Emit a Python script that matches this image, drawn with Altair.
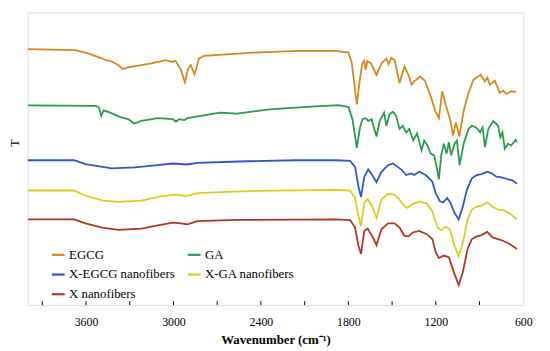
import altair as alt
import pandas as pd

# ---- data (wavenumber in cm-1, T in arbitrary offset units) ----
SERIES = ["EGCG", "GA", "X-EGCG nanofibers", "X-GA nanofibers", "X nanofibers"]
COLORS = ["#D4891C", "#2E9A4B", "#2F57C9", "#D6CF1F", "#B3361E"]
# legend is filled column by column: column 1 = EGCG, X-EGCG, X; column 2 = GA, X-GA
LEGEND_ORDER = ["EGCG", "X-EGCG nanofibers", "X nanofibers", "GA", "X-GA nanofibers"]

EGCG_WN = [4000, 3670, 3580, 3501, 3463, 3434, 3378, 3350, 3310, 3152, 3051, 3017, 2985, 2949, 2922,
           2899, 2882, 2855, 2825, 2791, 2453, 2137, 1889, 1799, 1776, 1742, 1720, 1704, 1691, 1681,
           1670, 1645, 1607, 1573, 1539, 1524, 1505, 1483, 1449, 1415, 1388, 1366, 1348, 1307, 1275,
           1235, 1208, 1179, 1156, 1133, 1099, 1082, 1062, 1039, 1009, 976, 942, 892, 863, 847, 829,
           795, 761, 739, 716, 683, 649]
EGCG_T = [259.7, 258.7, 255.3, 251, 248.7, 248, 243.7, 239.7, 241.3, 245.3, 248.7, 247, 247.7, 238.7, 226.3,
          240.3, 243.7, 234.3, 250.3, 253, 256.3, 258, 258, 256.3, 245.3, 203.7, 230.3, 245.3, 248, 238.7,
          247.7, 245.3, 233.7, 245.3, 250.3, 244.7, 251, 248.7, 225.3, 242, 233.7, 223.7, 227, 232, 227.7,
          212, 198.7, 189.7, 217, 203.7, 187, 172, 185.3, 171, 197, 215.3, 228.7, 233.7, 227, 231, 223.7,
          227.7, 215.3, 217.7, 214.3, 217, 216.3]

GA_WN = [4000, 3535, 3513, 3495, 3479, 3434, 3355, 3310, 3269, 3220, 3107, 3005, 2983, 2960, 2926, 2904,
         2679, 2566, 2340, 2114, 1867, 1799, 1772, 1742, 1720, 1704, 1681, 1664, 1641, 1607, 1585, 1555,
         1539, 1517, 1495, 1472, 1449, 1427, 1404, 1382, 1355, 1329, 1298, 1280, 1258, 1235, 1212, 1190,
         1179, 1163, 1145, 1126, 1111, 1095, 1072, 1055, 1037, 1009, 976, 953, 924, 896, 879, 863, 840,
         806, 773, 757, 743, 727, 705, 683, 653, 644]
GA_T = [202.7, 202.3, 201, 192, 197.7, 195.3, 190.3, 188.7, 184.3, 187, 189.7, 188.7, 186.3, 188.7, 187.7, 189.7,
        195.3, 194.3, 198.7, 201, 203, 201, 188.7, 159.7, 180.3, 188.7, 189.7, 187, 188.7, 171, 187, 195.3,
        182, 193.7, 196.3, 192, 178.7, 182, 175.3, 178.7, 167, 174.3, 157, 167, 162, 153.7, 152, 137,
        127.7, 152, 163.7, 153.7, 165.3, 152, 163.7, 167, 142, 163.7, 178.7, 182, 180.3, 175.3, 180.3, 160.3, 178.7,
        187, 182, 170.3, 175.3, 158.7, 163.7, 162, 167.7, 165.3]

XEGCG_WN = [4000, 3682, 3603, 3423, 3265, 3107, 3005, 2904, 2836, 2498, 2160, 1889, 1788, 1754, 1731, 1713,
            1691, 1664, 1637, 1607, 1573, 1528, 1495, 1461, 1427, 1404, 1370, 1348, 1314, 1269, 1224, 1201,
            1172, 1149, 1122, 1099, 1072, 1043, 1014, 987, 953, 919, 886, 847, 818, 784, 750, 705, 671, 644]
XEGCG_T = [147, 147, 143, 138.7, 139.7, 142, 143.7, 142.7, 144.3, 146, 147, 147, 146.3, 140.3, 120.3, 109.7,
           130.3, 137.7, 132, 124.7, 135.3, 142, 143.7, 140.3, 136.3, 132, 133.7, 132, 135.3, 132, 125.3, 113.7,
           105.3, 104.3, 108.7, 103.7, 93.7, 87, 100.3, 117, 128.7, 132, 133, 135.3, 133.7, 130.3, 129.7, 127.7, 126.3, 123]

XGA_WN = [4000, 3682, 3603, 3490, 3378, 3220, 3085, 2994, 2949, 2915, 2836, 2633, 2430, 1889, 1788, 1754,
          1731, 1713, 1691, 1668, 1637, 1607, 1573, 1528, 1483, 1449, 1415, 1393, 1366, 1314, 1262, 1224,
          1190, 1163, 1133, 1104, 1072, 1043, 1014, 982, 953, 915, 886, 847, 811, 773, 739, 693, 644]
XGA_T = [116.3, 116.3, 111, 106.3, 104.7, 106, 110.3, 112, 111.5, 110.3, 113.7, 115, 116, 117, 116.3, 108.7,
         90.3, 80.3, 103.7, 107.7, 100.3, 88.7, 107, 113, 112, 107, 100.3, 98.7, 102, 105.3, 103, 95.3,
         78.7, 76, 79.7, 77, 60.3, 49.7, 63.7, 87, 97, 100.3, 101, 104.3, 99.7, 97, 96.3, 93, 87]

X_WN = [4000, 3682, 3603, 3490, 3378, 3220, 3107, 3005, 2949, 2904, 2836, 2566, 1889, 1788, 1754, 1731,
        1713, 1691, 1668, 1637, 1607, 1573, 1528, 1483, 1449, 1415, 1388, 1359, 1314, 1262, 1224, 1201,
        1179, 1145, 1111, 1077, 1043, 1014, 982, 953, 919, 886, 847, 811, 773, 739, 693, 644]
X_T = [87, 87, 83, 78.7, 76.3, 77.7, 81, 83.7, 83, 82, 85.3, 86.5, 87, 86.3, 78.7, 60.3,
       52, 75.3, 77.7, 70.3, 61, 77, 83, 83, 78.7, 70.3, 69.7, 73.7, 75.3, 72, 67, 53.7,
       47.7, 50.3, 48.7, 33.7, 20.3, 33.7, 57, 67, 69.7, 71, 74.3, 68.7, 67, 65.3, 62, 57]

X_TICKS_MAJOR = [3600, 3000, 2400, 1800, 1200, 600]
X_TICKS_ALL = [3900, 3600, 3300, 3000, 2700, 2400, 2100, 1800, 1500, 1200, 900]

# ---- build tables ----
frames = []
for name, wn, t in [("EGCG", EGCG_WN, EGCG_T), ("GA", GA_WN, GA_T),
                    ("X-EGCG nanofibers", XEGCG_WN, XEGCG_T),
                    ("X-GA nanofibers", XGA_WN, XGA_T), ("X nanofibers", X_WN, X_T)]:
    frames.append(pd.DataFrame({"wn": wn, "T": t, "series": name}))
df = pd.concat(frames, ignore_index=True)
ticks_df = pd.DataFrame({"wn": X_TICKS_ALL})

color_of = dict(zip(SERIES, COLORS))
legend_colors = [color_of[s] for s in LEGEND_ORDER]

FONT = "'Liberation Serif', serif"

xscale = alt.Scale(domain=[4000, 600], nice=False, zero=False)

lines = alt.Chart(df).mark_line(strokeWidth=1.8).encode(
    x=alt.X("wn:Q", scale=xscale,
            axis=alt.Axis(values=X_TICKS_MAJOR, format="d", title="Wavenumber (cm⁻¹)", ticks=False,
                          domain=False, grid=False, labelFont=FONT, labelFontSize=12,
                          labelColor="black", labelPadding=12, titleFont=FONT, titleFontSize=13,
                          titleFontWeight="bold", titleColor="black", titlePadding=6,
                          labelFlush=False)),
    y=alt.Y("T:Q", scale=alt.Scale(domain=[0, 297], nice=False, zero=False),
            axis=alt.Axis(title="T", labels=False, ticks=False, domain=False, grid=False,
                          titleFont=FONT, titleFontSize=12, titleFontWeight="normal",
                          titleColor="black", titleX=-13, titleY=132, titleBaseline="middle",
                          titleAngle=270)),
    color=alt.Color("series:N", scale=alt.Scale(domain=LEGEND_ORDER, range=legend_colors),
                    legend=alt.Legend(title=None, orient="none", legendX=23, legendY=238,
                                      columns=2, symbolType="stroke", symbolStrokeWidth=2.2,
                                      symbolSize=169, labelFont=FONT, labelFontSize=13,
                                      labelColor="black", labelOffset=3, rowPadding=5,
                                      columnPadding=8, padding=0)),
    detail="series:N",
)

tick_rules = alt.Chart(ticks_df).mark_rule(color="black", strokeWidth=1).encode(
    x=alt.X("wn:Q", scale=xscale),
    y=alt.value(297),
    y2=alt.value(293),
)

chart = alt.layer(lines, tick_rules).properties(
    width=503, height=297,
    autosize=alt.AutoSizeParams(type="none"),
    padding={"left": 20, "top": 2, "right": 19, "bottom": 40},
).configure_view(stroke="black", strokeWidth=1.6).configure(background="white", font=FONT)

chart.save("out.html", embed_options={"renderer": "svg", "actions": False})
